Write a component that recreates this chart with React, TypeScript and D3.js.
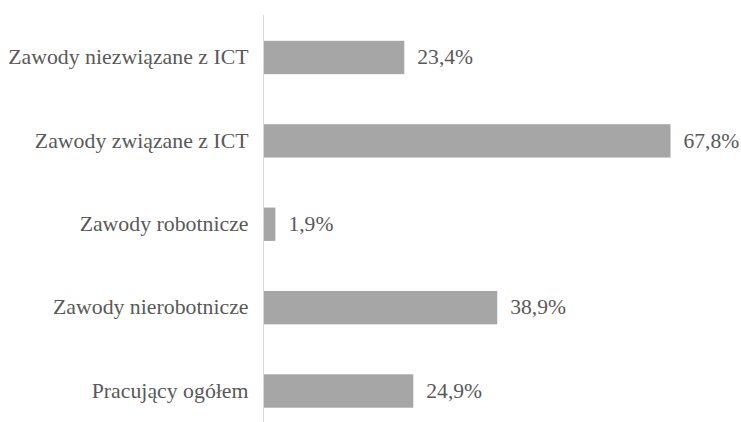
import * as d3 from "d3";
import { useEffect, useRef } from "react";

const categories = [
  "Zawody niezwiązane z ICT",
  "Zawody związane z ICT",
  "Zawody robotnicze",
  "Zawody nierobotnicze",
  "Pracujący ogółem",
];
const values = [23.4, 67.8, 1.9, 38.9, 24.9];
const valueLabels = ["23,4%", "67,8%", "1,9%", "38,9%", "24,9%"];

export default function App() {
  const ref = useRef<SVGSVGElement | null>(null);

  useEffect(() => {
    if (!ref.current) return;
    const svg = d3.select(ref.current);
    svg.selectAll("*").remove();

    const x0 = 264;
    const x = d3.scaleLinear().domain([0, 67.8]).range([x0, 670.5]);
    const y = d3
      .scaleBand<string>()
      .domain(categories)
      .range([15.8, 432.7])
      .paddingInner(0.6)
      .paddingOuter(0.3);

    const g = svg.append("g").style("font-family", "'Liberation Serif'");

    // axis line
    g.append("line")
      .attr("x1", x0 - 0.5)
      .attr("x2", x0 - 0.5)
      .attr("y1", 15)
      .attr("y2", 422)
      .attr("stroke", "#d9d9d9")
      .attr("stroke-width", 1);

    const rows = categories.map((c, i) => ({ c, v: values[i], label: valueLabels[i] }));

    g.selectAll("rect.bar")
      .data(rows)
      .join("rect")
      .attr("class", "bar")
      .attr("x", x0)
      .attr("y", d => y(d.c)!)
      .attr("width", d => x(d.v) - x0)
      .attr("height", y.bandwidth())
      .attr("fill", "#a6a6a6");

    g.selectAll("text.cat")
      .data(rows)
      .join("text")
      .attr("class", "cat")
      .attr("x", 248.5)
      .attr("y", d => y(d.c)! + y.bandwidth() / 2)
      .attr("dy", "0.31em")
      .attr("text-anchor", "end")
      .style("font-size", "21.8px")
      .attr("fill", "#595959")
      .text(d => d.c);

    g.selectAll("text.val")
      .data(rows)
      .join("text")
      .attr("class", "val")
      .attr("x", d => x(d.v) + 13)
      .attr("y", d => y(d.c)! + y.bandwidth() / 2)
      .attr("dy", "0.31em")
      .style("font-size", "21.6px")
      .attr("fill", "#595959")
      .text(d => d.label);
  }, []);

  return (
    <svg
      ref={ref}
      width={741}
      height={422}
      style={{ position: "absolute", left: 0, top: 0, background: "#fff" }}
    />
  );
}
